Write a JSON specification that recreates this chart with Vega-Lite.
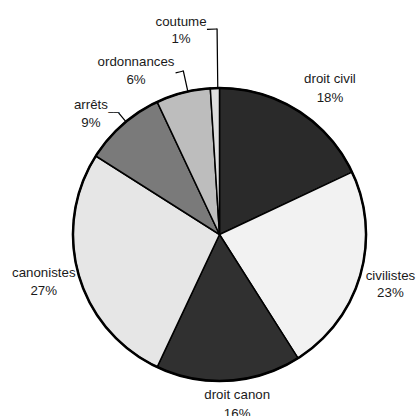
{
  "$schema": "https://vega.github.io/schema/vega-lite/v6.json",
  "autosize": {"type": "none"},
  "width": 395,
  "height": 363,
  "padding": {"left": 22, "top": 53, "right": 0, "bottom": 0},
  "background": "white",
  "config": {"view": {"stroke": null}},
  "datasets": {
    "pie": [
      {"cat": "droit civil", "share": 0.18, "rank": 1},
      {"cat": "civilistes", "share": 0.23, "rank": 2},
      {"cat": "droit canon", "share": 0.16, "rank": 3},
      {"cat": "canonistes", "share": 0.27, "rank": 4},
      {"cat": "arrêts", "share": 0.09, "rank": 5},
      {"cat": "ordonnances", "share": 0.06, "rank": 6},
      {"cat": "coutume", "share": 0.01, "rank": 7}
    ]
  },
  "data": {"name": "pie"},
  "resolve": {"scale": {"theta": "independent"}},
  "layer": [
    {
      "mark": {"type": "arc", "radius": 146.5, "stroke": "#000", "strokeWidth": 1.5},
      "encoding": {
        "theta": {"field": "share", "type": "quantitative", "stack": true},
        "order": {"field": "rank", "type": "quantitative"},
        "color": {"field": "cat", "type": "nominal", "legend": null,
          "scale": {"domain": ["droit civil", "civilistes", "droit canon", "canonistes", "arrêts", "ordonnances", "coutume"],
                    "range": ["#2a2a2a", "#f2f2f2", "#303030", "#e6e6e6", "#7a7a7a", "#bdbdbd", "#dedede"]}}
      }
    },
    {
      "data": {"values": [{}]},
      "mark": {"type": "arc", "theta": 0, "theta2": 6.2832, "radius": 146.5, "fill": "transparent", "stroke": "#000", "strokeWidth": 2.5},
      "encoding": {}
    },
    {
      "mark": {"type": "arc", "radius": 205.5, "radius2": 146.5, "fill": "transparent", "stroke": "#000", "strokeWidth": 1.1},
      "encoding": {
        "theta": {"field": "share", "type": "quantitative", "stack": true, "scale": {"domain": [0, 1], "range": [6.18454, 6.27184]}},
        "order": {"field": "rank", "type": "quantitative"},
        "strokeOpacity": {"condition": {"test": "datum.cat === 'coutume'", "value": 1}, "value": 0}
      }
    },
    {
      "mark": {"type": "arc", "radius": 205.5, "radius2": 205.5, "fill": "transparent", "stroke": "#000", "strokeWidth": 1.1},
      "encoding": {
        "theta": {"field": "share", "type": "quantitative", "stack": true, "scale": {"domain": [0, 1], "range": [1.38397, 6.27097]}},
        "order": {"field": "rank", "type": "quantitative"},
        "strokeOpacity": {"condition": {"test": "datum.cat === 'coutume'", "value": 1}, "value": 0}
      }
    },
    {
      "mark": {"type": "arc", "radius": 167.5, "radius2": 146.5, "fill": "transparent", "stroke": "#000", "strokeWidth": 1.1},
      "encoding": {
        "theta": {"field": "share", "type": "quantitative", "stack": true, "scale": {"domain": [0, 1], "range": [6.05148, 6.06603]}},
        "order": {"field": "rank", "type": "quantitative"},
        "strokeOpacity": {"condition": {"test": "datum.cat === 'ordonnances'", "value": 1}, "value": 0}
      }
    },
    {
      "mark": {"type": "arc", "radius": 167.5, "radius2": 167.5, "fill": "transparent", "stroke": "#000", "strokeWidth": 1.1},
      "encoding": {
        "theta": {"field": "share", "type": "quantitative", "stack": true, "scale": {"domain": [0, 1], "range": [5.28741, 6.07286]}},
        "order": {"field": "rank", "type": "quantitative"},
        "strokeOpacity": {"condition": {"test": "datum.cat === 'ordonnances'", "value": 1}, "value": 0}
      }
    },
    {
      "mark": {"type": "arc", "radius": 157.5, "radius2": 146.5, "fill": "transparent", "stroke": "#000", "strokeWidth": 1.1},
      "encoding": {
        "theta": {"field": "share", "type": "quantitative", "stack": true, "scale": {"domain": [0, 1], "range": [5.58209, 5.59179]}},
        "order": {"field": "rank", "type": "quantitative"},
        "strokeOpacity": {"condition": {"test": "datum.cat === 'arrêts'", "value": 1}, "value": 0}
      }
    },
    {
      "mark": {"type": "text", "radius": 160, "dx": 0, "dy": -1.2, "font": "DejaVu Sans Mono", "fontSize": 9.1, "fill": "#000", "baseline": "middle", "align": "center"},
      "encoding": {
        "theta": {"field": "share", "type": "quantitative", "stack": true},
        "order": {"field": "rank", "type": "quantitative"},
        "text": {"condition": {"test": "datum.cat === 'arrêts'", "value": "──"}, "value": ""}
      }
    },

    {"mark": {"type": "text", "radius": 180, "dx": 14, "dy": -3.5, "font": "Liberation Sans", "fontSize": 13.3, "fill": "#1a1a1a", "baseline": "middle", "align": "center"},
     "encoding": {"theta": {"field": "share", "type": "quantitative", "stack": true}, "order": {"field": "rank", "type": "quantitative"},
       "text": {"condition": {"test": "datum.cat === 'droit civil'", "field": "cat", "type": "nominal"}, "value": ""}}},
    {"mark": {"type": "text", "radius": 180, "dx": 14, "dy": 15.5, "font": "Liberation Sans", "fontSize": 13.3, "fill": "#1a1a1a", "baseline": "middle", "align": "center"},
     "encoding": {"theta": {"field": "share", "type": "quantitative", "stack": true}, "order": {"field": "rank", "type": "quantitative"},
       "text": {"condition": {"test": "datum.cat === 'droit civil'", "field": "share", "type": "quantitative", "format": ".0%"}, "value": ""}}},

    {"mark": {"type": "text", "radius": 178, "dx": 0, "dy": -8.5, "font": "Liberation Sans", "fontSize": 13.3, "fill": "#1a1a1a", "baseline": "middle", "align": "center"},
     "encoding": {"theta": {"field": "share", "type": "quantitative", "stack": true}, "order": {"field": "rank", "type": "quantitative"},
       "text": {"condition": {"test": "datum.cat === 'civilistes'", "field": "cat", "type": "nominal"}, "value": ""}}},
    {"mark": {"type": "text", "radius": 178, "dx": 0, "dy": 8.5, "font": "Liberation Sans", "fontSize": 13.3, "fill": "#1a1a1a", "baseline": "middle", "align": "center"},
     "encoding": {"theta": {"field": "share", "type": "quantitative", "stack": true}, "order": {"field": "rank", "type": "quantitative"},
       "text": {"condition": {"test": "datum.cat === 'civilistes'", "field": "share", "type": "quantitative", "format": ".0%"}, "value": ""}}},

    {"mark": {"type": "text", "radius": 170, "dx": 7, "dy": -9.5, "font": "Liberation Sans", "fontSize": 13.3, "fill": "#1a1a1a", "baseline": "middle", "align": "center"},
     "encoding": {"theta": {"field": "share", "type": "quantitative", "stack": true}, "order": {"field": "rank", "type": "quantitative"},
       "text": {"condition": {"test": "datum.cat === 'droit canon'", "field": "cat", "type": "nominal"}, "value": ""}}},
    {"mark": {"type": "text", "radius": 170, "dx": 7, "dy": 9.5, "font": "Liberation Sans", "fontSize": 13.3, "fill": "#1a1a1a", "baseline": "middle", "align": "center"},
     "encoding": {"theta": {"field": "share", "type": "quantitative", "stack": true}, "order": {"field": "rank", "type": "quantitative"},
       "text": {"condition": {"test": "datum.cat === 'droit canon'", "field": "share", "type": "quantitative", "format": ".0%"}, "value": ""}}},

    {"mark": {"type": "text", "radius": 183, "dx": 0, "dy": -13, "font": "Liberation Sans", "fontSize": 13.3, "fill": "#1a1a1a", "baseline": "middle", "align": "center"},
     "encoding": {"theta": {"field": "share", "type": "quantitative", "stack": true}, "order": {"field": "rank", "type": "quantitative"},
       "text": {"condition": {"test": "datum.cat === 'canonistes'", "field": "cat", "type": "nominal"}, "value": ""}}},
    {"mark": {"type": "text", "radius": 183, "dx": 0, "dy": 5, "font": "Liberation Sans", "fontSize": 13.3, "fill": "#1a1a1a", "baseline": "middle", "align": "center"},
     "encoding": {"theta": {"field": "share", "type": "quantitative", "stack": true}, "order": {"field": "rank", "type": "quantitative"},
       "text": {"condition": {"test": "datum.cat === 'canonistes'", "field": "share", "type": "quantitative", "format": ".0%"}, "value": ""}}},

    {"mark": {"type": "text", "radius": 175, "dx": -12.8, "dy": 1.3, "font": "Liberation Sans", "fontSize": 13.3, "fill": "#1a1a1a", "baseline": "middle", "align": "center"},
     "encoding": {"theta": {"field": "share", "type": "quantitative", "stack": true}, "order": {"field": "rank", "type": "quantitative"},
       "text": {"condition": {"test": "datum.cat === 'arrêts'", "field": "cat", "type": "nominal"}, "value": ""}}},
    {"mark": {"type": "text", "radius": 175, "dx": -12.8, "dy": 19.3, "font": "Liberation Sans", "fontSize": 13.3, "fill": "#1a1a1a", "baseline": "middle", "align": "center"},
     "encoding": {"theta": {"field": "share", "type": "quantitative", "stack": true}, "order": {"field": "rank", "type": "quantitative"},
       "text": {"condition": {"test": "datum.cat === 'arrêts'", "field": "share", "type": "quantitative", "format": ".0%"}, "value": ""}}},

    {"mark": {"type": "text", "radius": 170, "dx": -41.2, "dy": -8, "font": "Liberation Sans", "fontSize": 13.3, "fill": "#1a1a1a", "baseline": "middle", "align": "center"},
     "encoding": {"theta": {"field": "share", "type": "quantitative", "stack": true}, "order": {"field": "rank", "type": "quantitative"},
       "text": {"condition": {"test": "datum.cat === 'ordonnances'", "field": "cat", "type": "nominal"}, "value": ""}}},
    {"mark": {"type": "text", "radius": 170, "dx": -41.2, "dy": 10.2, "font": "Liberation Sans", "fontSize": 13.3, "fill": "#1a1a1a", "baseline": "middle", "align": "center"},
     "encoding": {"theta": {"field": "share", "type": "quantitative", "stack": true}, "order": {"field": "rank", "type": "quantitative"},
       "text": {"condition": {"test": "datum.cat === 'ordonnances'", "field": "share", "type": "quantitative", "format": ".0%"}, "value": ""}}},

    {"mark": {"type": "text", "radius": 205, "dx": -32, "dy": -8, "font": "Liberation Sans", "fontSize": 13.3, "fill": "#1a1a1a", "baseline": "middle", "align": "center"},
     "encoding": {"theta": {"field": "share", "type": "quantitative", "stack": true}, "order": {"field": "rank", "type": "quantitative"},
       "text": {"condition": {"test": "datum.cat === 'coutume'", "field": "cat", "type": "nominal"}, "value": ""}}},
    {"mark": {"type": "text", "radius": 205, "dx": -32, "dy": 9.3, "font": "Liberation Sans", "fontSize": 13.3, "fill": "#1a1a1a", "baseline": "middle", "align": "center"},
     "encoding": {"theta": {"field": "share", "type": "quantitative", "stack": true}, "order": {"field": "rank", "type": "quantitative"},
       "text": {"condition": {"test": "datum.cat === 'coutume'", "field": "share", "type": "quantitative", "format": ".0%"}, "value": ""}}}
  ]
}
